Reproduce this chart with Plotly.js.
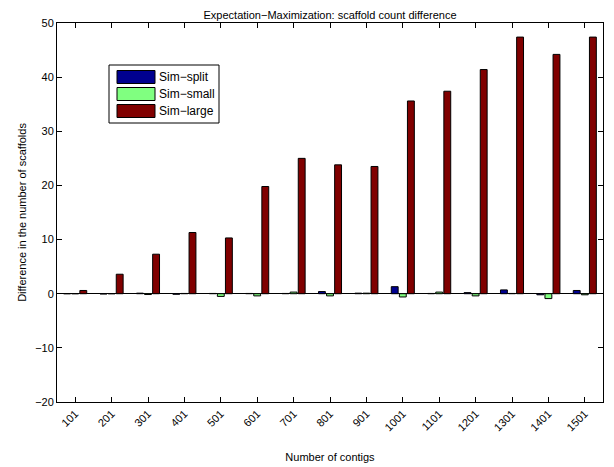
<!DOCTYPE html>
<html>
<head>
<meta charset="utf-8">
<script src="https://cdn.plot.ly/plotly-3.0.1.min.js"></script>
<style>
  html, body { margin: 0; padding: 0; background: #fff; }
  #chart { width: 614px; height: 467px; }
</style>
</head>
<body>
<div id="chart"></div>
<script>
// Number of contigs (x categories)
const contigs = ['101', '201', '301', '401', '501', '601', '701', '801',
                 '901', '1001', '1101', '1201', '1301', '1401', '1501'];

// Scaffold count difference per simulation
const simSplit = [0.0, -0.05, 0.1, -0.1, 0.05, 0.05, 0.05, 0.4,
                  0.1, 1.3, 0.05, 0.2, 0.7, -0.2, 0.6];
const simSmall = [0.0, 0.0, -0.15, 0.05, -0.5, -0.4, 0.3, -0.4,
                  0.1, -0.6, 0.3, -0.4, 0.05, -0.9, -0.2];
const simLarge = [0.6, 3.6, 7.3, 11.3, 10.3, 19.8, 25.0, 23.8,
                  23.5, 35.6, 37.4, 41.4, 47.4, 44.2, 47.4];

const seriesNames = ['Sim\u2212split', 'Sim\u2212small', 'Sim\u2212large'];
const seriesColors = ['#00008F', '#80FF80', '#800000'];
const seriesValues = [simSplit, simSmall, simLarge];

const W = 614, H = 467;
const M = { l: 57, r: 11, t: 23, b: 65 };
const plotW = W - M.l - M.r, plotH = H - M.t - M.b;
// page pixel -> paper fraction, for the legend box
const px = x => (x - M.l) / plotW;
const py = y => (H - M.b - y) / plotH;

const traces = seriesValues.map((vals, i) => ({
  type: 'bar',
  name: seriesNames[i],
  x: contigs,
  y: vals,
  marker: { color: seriesColors[i], line: { color: '#000', width: 1 } },
  showlegend: false
}));

const font = { family: 'Liberation Sans, Arial, Helvetica, sans-serif', size: 11, color: '#000' };
const legendFont = { family: font.family, size: 12, color: '#000' };

// Boxed legend with wide colour swatches
const legendBox = { x0: 109, x1: 219, y0: 65, y1: 123 };
const rowY = [77, 94, 111];
const shapes = [{
  type: 'rect', xref: 'paper', yref: 'paper',
  x0: px(legendBox.x0), x1: px(legendBox.x1),
  y0: py(legendBox.y1), y1: py(legendBox.y0),
  fillcolor: '#fff', line: { color: '#000', width: 1 }, layer: 'above'
}];
const annotations = [];
seriesNames.forEach((name, i) => {
  shapes.push({
    type: 'rect', xref: 'paper', yref: 'paper',
    x0: px(117), x1: px(155),
    y0: py(rowY[i] + 6.5), y1: py(rowY[i] - 6.5),
    fillcolor: seriesColors[i], line: { color: '#000', width: 1 }, layer: 'above'
  });
  annotations.push({
    xref: 'paper', yref: 'paper',
    x: px(157), y: py(rowY[i]),
    xanchor: 'left', yanchor: 'middle',
    text: name, showarrow: false, font: legendFont
  });
});

const layout = {
  width: W,
  height: H,
  margin: M,
  paper_bgcolor: '#fff',
  plot_bgcolor: '#fff',
  font: font,
  barmode: 'group',
  bargap: 0.333,
  bargroupgap: 0.15,
  showlegend: false,
  title: {
    text: 'Expectation\u2212Maximization: scaffold count difference',
    font: { family: font.family, size: 11, color: '#000' },
    x: 0.5375, xanchor: 'center',
    y: 0.968, yanchor: 'middle'
  },
  xaxis: {
    type: 'category',
    range: [-0.5, 14.5],
    ticks: 'inside',
    ticklen: 5,
    tickwidth: 1,
    tickcolor: '#000',
    tickangle: -45,
    showline: true,
    linecolor: '#000',
    linewidth: 1,
    mirror: 'ticks',
    showgrid: false,
    zeroline: false,
    tickfont: font,
    title: { text: 'Number of contigs', font: font, standoff: 20 }
  },
  yaxis: {
    range: [-20, 50],
    tickvals: [-20, -10, 0, 10, 20, 30, 40, 50],
    ticktext: ['\u221220', '\u221210', '0', '10', '20', '30', '40', '50'],
    ticks: 'inside',
    ticklen: 5,
    tickwidth: 1,
    tickcolor: '#000',
    showline: true,
    linecolor: '#000',
    linewidth: 1,
    mirror: 'ticks',
    showgrid: false,
    zeroline: true,
    zerolinecolor: '#000',
    zerolinewidth: 1,
    tickfont: font,
    title: { text: 'Difference in the number of scaffolds', font: font, standoff: 6 }
  },
  shapes: shapes,
  annotations: annotations
};

Plotly.newPlot('chart', traces, layout, { displayModeBar: false, staticPlot: true });
</script>
</body>
</html>
